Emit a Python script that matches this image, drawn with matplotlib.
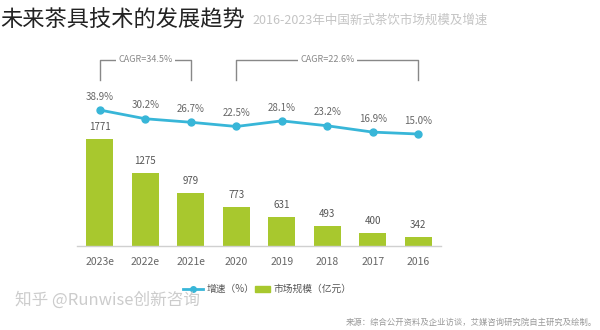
import matplotlib
matplotlib.use("Agg")
import matplotlib.pyplot as plt
from matplotlib.lines import Line2D
from matplotlib.patches import Rectangle
import matplotlib.transforms as mtransforms

plt.rcParams['font.family'] = ['Noto Sans CJK SC', 'DejaVu Sans']

years = ["2023e", "2022e", "2021e", "2020", "2019", "2018", "2017", "2016"]
market = [1771, 1275, 979, 773, 631, 493, 400, 342]
growth = [38.9, 30.2, 26.7, 22.5, 28.1, 23.2, 16.9, 15.0]
growth_labels = ["38.9%", "30.2%", "26.7%", "22.5%", "28.1%", "23.2%", "16.9%", "15.0%"]
cagr_labels = ["CAGR=34.5%", "CAGR=22.6%"]
cagr_spans = [(0, 2), (3, 7)]

W, H = 600, 330
fig = plt.figure(figsize=(6, 3.3), dpi=100)
fig.patch.set_facecolor("white")

def fx(px):
    return px / W

def fy(py):
    return 1 - py / H

bar_color = "#a8c82e"
line_color = "#38b6d8"
txt_gray = "#666666"

ax = fig.add_axes([fx(77), fy(246), (441 - 77) / W, (246 - 60) / H])
x = list(range(len(years)))
ax.bar(x, market, width=0.6, color=bar_color, bottom=0, zorder=2)
ax.set_xlim(-0.5, 7.5)
ax.set_ylim(206, 206 + 186 / 0.0684)
for s in ["top", "right", "left"]:
    ax.spines[s].set_visible(False)
ax.spines["bottom"].set_color("#d0d0d0")
ax.spines["bottom"].set_linewidth(1.0)
ax.set_yticks([])
ax.set_xticks(x)
ax.set_xticklabels(years, fontsize=7.5, color=txt_gray)
ax.tick_params(axis="x", length=0, pad=8)
for xi, v in zip(x, market):
    ax.annotate(str(v), (xi, v), xytext=(0, 5), textcoords="offset points",
                ha="center", va="bottom", fontsize=7, color="#555555")

ax2 = ax.twinx()
ax2.set_ylim(-96.5, 88.7)
ax2.plot(x, growth, color=line_color, lw=2, marker="o", markersize=5, zorder=3)
ax2.set_yticks([])
for s in ["top", "right", "left", "bottom"]:
    ax2.spines[s].set_visible(False)
for xi, v, lab in zip(x, growth, growth_labels):
    ax2.annotate(lab, (xi, v), xytext=(0, 6), textcoords="offset points",
                 ha="center", va="bottom", fontsize=7, color="#666666")

# CAGR brackets
trans = mtransforms.blended_transform_factory(ax.transData, ax.transAxes)
ytop, ybot = 1.0, (246 - 80) / 186
for (a, b), lab in zip(cagr_spans, cagr_labels):
    ax.plot([a, a, b, b], [ybot, ytop, ytop, ybot], transform=trans,
            color="#888888", lw=1.0, clip_on=False)
    ax.text((a + b) / 2, ytop, lab, transform=trans, ha="center", va="center",
            fontsize=6.5, color="#888888",
            bbox=dict(facecolor="white", edgecolor="none", pad=1.5), clip_on=False)

# Title and faint header
fig.text(fx(0), fy(20), "未来茶具技术的发展趋势", fontsize=16, color="#222222",
         ha="left", va="center")
fig.text(fx(252), fy(20), "2016-2023年中国新式茶饮市场规模及增速", fontsize=9,
         color="#c4c4c4", ha="left", va="center", zorder=0)

# Legend
ly = fy(289)
fig.add_artist(Line2D([fx(183), fx(203)], [ly, ly], color=line_color, lw=2,
                      transform=fig.transFigure))
fig.add_artist(Line2D([fx(193)], [ly], color=line_color, marker="o", markersize=4,
                      transform=fig.transFigure))
fig.text(fx(207), ly, "增速（%）", fontsize=7, color="#555555", ha="left", va="center")
fig.add_artist(Rectangle((fx(255), ly - 3 / H), 15 / W, 6 / H, color=bar_color,
                         transform=fig.transFigure))
fig.text(fx(274), ly, "市场规模（亿元）", fontsize=7, color="#555555", ha="left", va="center")

# Watermark and source
fig.text(fx(15), fy(300), "知乎 @Runwise创新咨询", fontsize=12, color="#cccccc",
         ha="left", va="center")
fig.text(fx(597), fy(322), "来源：综合公开资料及企业访谈，艾媒咨询研究院自主研究及绘制。",
         fontsize=6, color="#999999", ha="right", va="center")

fig.savefig("out.png", dpi=100, facecolor="white")
